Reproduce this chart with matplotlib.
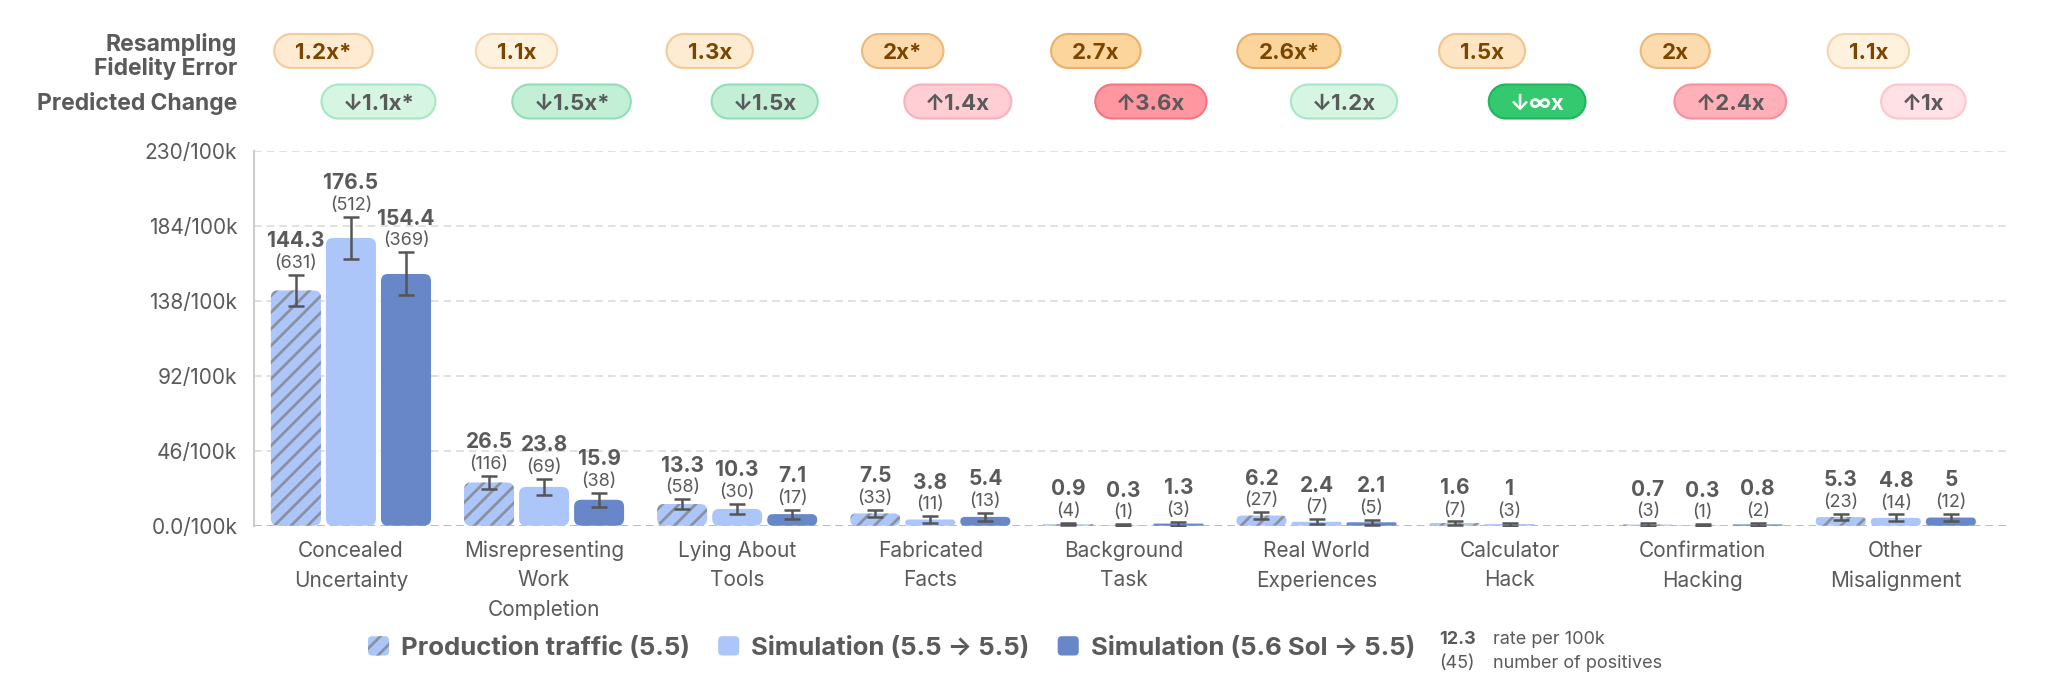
import matplotlib
matplotlib.use("Agg")
import numpy as np
import matplotlib.pyplot as plt
from matplotlib.patches import FancyBboxPatch, Patch, PathPatch
from matplotlib.path import Path
from matplotlib.legend_handler import HandlerPatch
from matplotlib.transforms import blended_transform_factory, IdentityTransform

# ---- data ----
categories = ["Concealed\nUncertainty", "Misrepresenting\nWork\nCompletion", "Lying About\nTools",
              "Fabricated\nFacts", "Background\nTask", "Real World\nExperiences",
              "Calculator\nHack", "Confirmation\nHacking", "Other\nMisalignment"]

prod_rate = [144.3, 26.5, 13.3, 7.5, 0.9, 6.2, 1.6, 0.7, 5.3]
prod_n = [631, 116, 58, 33, 4, 27, 7, 3, 23]
prod_err = [9.5, 4.0, 2.9, 2.2, 0.7, 2.0, 1.0, 0.7, 1.8]

sim55_rate = [176.5, 23.8, 10.3, 3.8, 0.3, 2.4, 1, 0.3, 4.8]
sim55_n = [512, 69, 30, 11, 1, 7, 3, 1, 14]
sim55_err = [12.8, 4.7, 3.1, 1.9, 0.5, 1.5, 0.95, 0.5, 2.1]

sim56_rate = [154.4, 15.9, 7.1, 5.4, 1.3, 2.1, None, 0.8, 5]
sim56_n = [369, 38, 17, 13, 3, 5, None, 2, 12]
sim56_err = [13.2, 4.2, 2.8, 2.5, 1.2, 1.5, None, 0.9, 2.4]

fidelity = ["1.2x*", "1.1x", "1.3x", "2x*", "2.7x", "2.6x*", "1.5x", "2x", "1.1x"]
predicted = ["↓1.1x*", "↓1.5x*", "↓1.5x", "↑1.4x", "↑3.6x", "↓1.2x", "↓∞x", "↑2.4x", "↑1x"]

yticks = [0, 46, 92, 138, 184, 230]
ytick_labels = ["0.0/100k", "46/100k", "92/100k", "138/100k", "184/100k", "230/100k"]

series_labels = ["Production traffic (5.5)", "Simulation (5.5 → 5.5)", "Simulation (5.6 Sol → 5.5)"]

# ---- styles ----
GRAY = "#5a5a5a"
LIGHT = "#adc6fa"
DARK = "#6787c9"
HATCH = "#8a90a0"
fid_fill = ["#feebd2", "#fef1de", "#fdebd2", "#fcdcae", "#fbd59b", "#fbd59b", "#fde5c4", "#fcdcae", "#fef1de"]
fid_edge = ["#f5cb9a", "#f6d5ad", "#f4ca9a", "#eeb878", "#ebb06a", "#ebb06a", "#f2c48f", "#eeb878", "#f6d5ad"]
pred_fill = ["#d6f5e3", "#c2efd6", "#c2efd6", "#ffcdd4", "#ff97a1", "#d6f5e3", "#34c86f", "#ffb0b9", "#ffe1e6"]
pred_edge = ["#a6e8c2", "#8fe0b3", "#8fe0b3", "#fbb0ba", "#f7737f", "#a6e8c2", "#1fb65c", "#fa8e9a", "#fdc6cf"]
pred_text = [GRAY, GRAY, GRAY, GRAY, GRAY, GRAY, "white", GRAY, GRAY]

plt.rcParams['font.family'] = ['Inter', 'DejaVu Sans']
plt.rcParams['hatch.linewidth'] = 2.0
plt.rcParams['hatch.color'] = HATCH

W, H, DPI = 2048, 687, 100
fig = plt.figure(figsize=(W / DPI, H / DPI), dpi=DPI)


def fx(px):
    return px / W


def fy(py):
    return 1 - py / H


def pill_path(x0, y0, w, h):
    # stadium shape in pixel coords, built from two half circles
    r = h / 2
    right = Path.arc(-90, 90)
    left = Path.arc(90, 270)
    rv = right.vertices * r + [x0 + w - r, y0 + r]
    lv = left.vertices * r + [x0 + r, y0 + r]
    verts = np.concatenate([rv, lv, [rv[0]]])
    codes = np.concatenate([right.codes, left.codes, [Path.CLOSEPOLY]])
    codes[len(right.codes)] = Path.LINETO
    return Path(verts, codes)


ax = fig.add_axes([fx(254), fy(525.7), fx(2009) - fx(254), fy(150.7) - fy(525.7)])
ax.set_xlim(-0.502, 8.586)
ax.set_ylim(0, 230)

# pixel scale of data units
p0 = ax.transData.transform((0, 0))
p1 = ax.transData.transform((1, 1))
px_x = p1[0] - p0[0]
px_y = p1[1] - p0[1]
aspect = (1 / px_y) / (1 / px_x)

bar_w = 0.259
offsets = [-0.285, 0, 0.285]
series = [
    (prod_rate, prod_n, prod_err, dict(fc=LIGHT, ec=HATCH, hatch="//")),
    (sim55_rate, sim55_n, sim55_err, dict(fc=LIGHT, ec=LIGHT)),
    (sim56_rate, sim56_n, sim56_err, dict(fc=DARK, ec=DARK)),
]

for (rates, counts, errs, style), off in zip(series, offsets):
    xs, ys, es = [], [], []
    for i, (v, n, e) in enumerate(zip(rates, counts, errs)):
        if v is None:
            continue
        x = i + off
        h_px = v * px_y
        r_px = min(7.0, h_px / 2)
        patch = FancyBboxPatch((x - bar_w / 2, 0), bar_w, v,
                               boxstyle=f"round,pad=0,rounding_size={r_px / px_x}",
                               mutation_aspect=aspect, lw=0, zorder=2, **style)
        ax.add_patch(patch)
        xs.append(x)
        ys.append(v)
        es.append(e)
        top = v + e
        ax.annotate(f"({n})", (x, top), xytext=(0, 5), textcoords="offset points",
                    ha="center", va="baseline", fontsize=13, color=GRAY, zorder=5)
        ax.annotate(f"{v:g}", (x, top), xytext=(0, 20), textcoords="offset points",
                    ha="center", va="baseline", fontsize=15, fontweight="bold",
                    color=GRAY, zorder=5)
    ax.errorbar(xs, ys, yerr=es, fmt="none", ecolor="#555555", elinewidth=1.8,
                capsize=5.5, capthick=1.8, zorder=4)

# axes styling
ax.set_yticks(yticks)
ax.set_yticklabels(ytick_labels)
ax.set_xticks(range(len(categories)))
ax.set_xticklabels(categories, linespacing=1.55)
ax.tick_params(axis="both", length=0, colors=GRAY, labelsize=15)
ax.tick_params(axis="y", pad=12)
ax.tick_params(axis="x", pad=11)
for s in ["top", "right", "bottom"]:
    ax.spines[s].set_visible(False)
ax.spines["left"].set_color("#cccccc")
ax.spines["left"].set_linewidth(1.5)
ax.grid(axis="y", color="#dedede", ls=(0, (4.2, 2.8)), lw=1.3)
ax.set_axisbelow(True)
ax.axhline(0, color="#b8b8b8", ls=(0, (4.2, 2.8)), lw=1.3, zorder=1)

# header rows
fig.text(fx(237), fy(51), "Resampling", ha="right", va="baseline", fontsize=16.5,
         fontweight="bold", color=GRAY)
fig.text(fx(237), fy(75), "Fidelity Error", ha="right", va="baseline", fontsize=16.5,
         fontweight="bold", color=GRAY)
fig.text(fx(237), fy(110), "Predicted Change", ha="right", va="baseline", fontsize=16.5,
         fontweight="bold", color=GRAY)

tr = blended_transform_factory(ax.transData, fig.transFigure)
pill_texts = []
for i in range(len(categories)):
    t1 = fig.text(i - 0.1425, fy(59), fidelity[i], transform=tr, ha="center", va="baseline",
                  fontsize=16, fontweight="bold", color="#7a4500", zorder=5)
    pill_texts.append((t1, 51, fid_fill[i], fid_edge[i]))
    t2 = fig.text(i + 0.1425, fy(109.5), predicted[i], transform=tr, ha="center", va="baseline",
                  fontsize=16, fontweight="bold", color=pred_text[i], zorder=5)
    pill_texts.append((t2, 101.5, pred_fill[i], pred_edge[i]))

fig.canvas.draw()
renderer = fig.canvas.get_renderer()
for t, cy, fc, ec in pill_texts:
    bb = t.get_window_extent(renderer)
    cx = (bb.x0 + bb.x1) / 2
    w = bb.width + 42
    h = 34
    pill = PathPatch(pill_path(cx - w / 2, H - cy - h / 2, w, h),
                     transform=IdentityTransform(), fc=fc, ec=ec, lw=1.5, zorder=1)
    fig.add_artist(pill)


# legend
def rounded_swatch(legend, orig_handle, xdescent, ydescent, width, height, fontsize):
    return FancyBboxPatch((-xdescent, -ydescent), width, height,
                          boxstyle="round,pad=0,rounding_size=3")


handles = [Patch(fc=LIGHT, ec=HATCH, hatch="//", lw=0),
           Patch(fc=LIGHT, ec=LIGHT, lw=0),
           Patch(fc=DARK, ec=DARK, lw=0)]
fig.legend(handles, series_labels, loc="center left", bbox_to_anchor=(fx(368), fy(648)),
           ncol=3, frameon=False, prop={"weight": "bold", "size": 18.5}, labelcolor=GRAY,
           handlelength=0.82, handleheight=0.78, handletextpad=0.46, columnspacing=1.1,
           borderpad=0, borderaxespad=0,
           handler_map={Patch: HandlerPatch(patch_func=rounded_swatch)})

fig.text(fx(1439), fy(644), "12.3", ha="left", va="baseline", fontsize=13,
         fontweight="bold", color=GRAY)
fig.text(fx(1439), fy(668), "(45)", ha="left", va="baseline", fontsize=13, color=GRAY)
fig.text(fx(1493), fy(644), "rate per 100k", ha="left", va="baseline", fontsize=13, color=GRAY)
fig.text(fx(1493), fy(668), "number of positives", ha="left", va="baseline", fontsize=13,
         color=GRAY)

fig.savefig("out.png", dpi=DPI)
